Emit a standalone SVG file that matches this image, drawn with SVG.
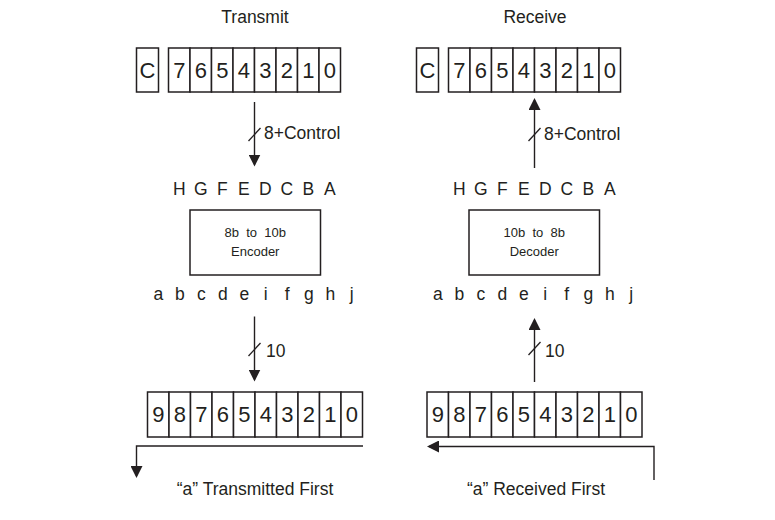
<svg xmlns="http://www.w3.org/2000/svg" width="775" height="520" viewBox="0 0 775 520">
  <defs>
    <style>
      .cell { fill: #fff; stroke: #231f20; stroke-width: 1.5; }
      .box { fill: #fff; stroke: #231f20; stroke-width: 1.5; }
      .digit { font-family: "Liberation Sans", Arial, sans-serif; font-size: 22px; fill: #231f20; text-anchor: middle; }
      .lbl { font-family: "Liberation Sans", Arial, sans-serif; font-size: 17.5px; fill: #231f20; }
      .mid { text-anchor: middle; }
      .small { font-family: "Liberation Sans", Arial, sans-serif; font-size: 13px; fill: #231f20; text-anchor: middle; white-space: pre; }
      .wire { fill: none; stroke: #231f20; stroke-width: 1.4; }
      .tick { fill: none; stroke: #231f20; stroke-width: 1.3; }
    </style>
    <marker id="head" markerUnits="userSpaceOnUse" markerWidth="12" markerHeight="12" refX="10" refY="6" orient="auto">
      <path d="M0,0 L12,6 L0,12 z" fill="#231f20"/>
    </marker>
  </defs>

  <rect width="775" height="520" fill="#fff"/>

  <!-- Section titles -->
  <g id="title-transmit"><text class="lbl mid" x="255" y="22.5">Transmit</text></g>
  <g id="title-receive"><text class="lbl mid" x="535" y="22.5">Receive</text></g>

  <!-- Transmit: parallel byte + control register -->
  <g id="tx-parallel-reg">
    <rect class="cell" x="136.5" y="48" width="22" height="44"/>
    <text class="digit" x="147.5" y="77.5">C</text>
    <rect class="cell" x="168.5" y="48" width="21.5" height="44"/>
    <rect class="cell" x="190" y="48" width="21.5" height="44"/>
    <rect class="cell" x="211.5" y="48" width="21.5" height="44"/>
    <rect class="cell" x="233" y="48" width="21.5" height="44"/>
    <rect class="cell" x="254.5" y="48" width="21.5" height="44"/>
    <rect class="cell" x="276" y="48" width="21.5" height="44"/>
    <rect class="cell" x="297.5" y="48" width="21.5" height="44"/>
    <rect class="cell" x="319" y="48" width="21.5" height="44"/>
    <text class="digit" x="179.25" y="77.5">7</text>
    <text class="digit" x="200.75" y="77.5">6</text>
    <text class="digit" x="222.25" y="77.5">5</text>
    <text class="digit" x="243.75" y="77.5">4</text>
    <text class="digit" x="265.25" y="77.5">3</text>
    <text class="digit" x="286.75" y="77.5">2</text>
    <text class="digit" x="308.25" y="77.5">1</text>
    <text class="digit" x="329.75" y="77.5">0</text>
  </g>

  <!-- Receive: parallel byte + control register -->
  <g id="rx-parallel-reg">
    <rect class="cell" x="416.5" y="48" width="22" height="44"/>
    <text class="digit" x="427.5" y="77.5">C</text>
    <rect class="cell" x="448.5" y="48" width="21.5" height="44"/>
    <rect class="cell" x="470" y="48" width="21.5" height="44"/>
    <rect class="cell" x="491.5" y="48" width="21.5" height="44"/>
    <rect class="cell" x="513" y="48" width="21.5" height="44"/>
    <rect class="cell" x="534.5" y="48" width="21.5" height="44"/>
    <rect class="cell" x="556" y="48" width="21.5" height="44"/>
    <rect class="cell" x="577.5" y="48" width="21.5" height="44"/>
    <rect class="cell" x="599" y="48" width="21.5" height="44"/>
    <text class="digit" x="459.25" y="77.5">7</text>
    <text class="digit" x="480.75" y="77.5">6</text>
    <text class="digit" x="502.25" y="77.5">5</text>
    <text class="digit" x="523.75" y="77.5">4</text>
    <text class="digit" x="545.25" y="77.5">3</text>
    <text class="digit" x="566.75" y="77.5">2</text>
    <text class="digit" x="588.25" y="77.5">1</text>
    <text class="digit" x="609.75" y="77.5">0</text>
  </g>

  <!-- Encoder block with its input/output bit names -->
  <g id="tx-encoder">
    <g class="lbl mid">
      <text x="179.25" y="195">H</text>
      <text x="200.75" y="195">G</text>
      <text x="222.25" y="195">F</text>
      <text x="243.75" y="195">E</text>
      <text x="265.25" y="195">D</text>
      <text x="286.75" y="195">C</text>
      <text x="308.25" y="195">B</text>
      <text x="329.75" y="195">A</text>
    </g>
    <rect class="box" x="190" y="210" width="130.5" height="65"/>
    <text class="small" x="255.25" y="237" xml:space="preserve">8b  to  10b</text>
    <text class="small" x="255.25" y="256">Encoder</text>
    <g class="lbl mid">
      <text x="158.25" y="300">a</text>
      <text x="179.75" y="300">b</text>
      <text x="201.25" y="300">c</text>
      <text x="222.75" y="300">d</text>
      <text x="244.25" y="300">e</text>
      <text x="265.75" y="300">i</text>
      <text x="287.25" y="300">f</text>
      <text x="308.75" y="300">g</text>
      <text x="330.25" y="300">h</text>
      <text x="351.75" y="300">j</text>
    </g>
  </g>

  <!-- Decoder block with its input/output bit names -->
  <g id="rx-decoder">
    <g class="lbl mid">
      <text x="459.25" y="195">H</text>
      <text x="480.75" y="195">G</text>
      <text x="502.25" y="195">F</text>
      <text x="523.75" y="195">E</text>
      <text x="545.25" y="195">D</text>
      <text x="566.75" y="195">C</text>
      <text x="588.25" y="195">B</text>
      <text x="609.75" y="195">A</text>
    </g>
    <rect class="box" x="469" y="210" width="130.5" height="65"/>
    <text class="small" x="534.25" y="237" xml:space="preserve">10b  to  8b</text>
    <text class="small" x="534.25" y="256">Decoder</text>
    <g class="lbl mid">
      <text x="437.75" y="300">a</text>
      <text x="459.25" y="300">b</text>
      <text x="480.75" y="300">c</text>
      <text x="502.25" y="300">d</text>
      <text x="523.75" y="300">e</text>
      <text x="545.25" y="300">i</text>
      <text x="566.75" y="300">f</text>
      <text x="588.25" y="300">g</text>
      <text x="609.75" y="300">h</text>
      <text x="631.25" y="300">j</text>
    </g>
  </g>

  <!-- Transmit: 10-bit serial register -->
  <g id="tx-serial-reg">
    <rect class="cell" x="147.5" y="392" width="21.5" height="45"/>
    <rect class="cell" x="169" y="392" width="21.5" height="45"/>
    <rect class="cell" x="190.5" y="392" width="21.5" height="45"/>
    <rect class="cell" x="212" y="392" width="21.5" height="45"/>
    <rect class="cell" x="233.5" y="392" width="21.5" height="45"/>
    <rect class="cell" x="255" y="392" width="21.5" height="45"/>
    <rect class="cell" x="276.5" y="392" width="21.5" height="45"/>
    <rect class="cell" x="298" y="392" width="21.5" height="45"/>
    <rect class="cell" x="319.5" y="392" width="21.5" height="45"/>
    <rect class="cell" x="341" y="392" width="21.5" height="45"/>
    <text class="digit" x="158.25" y="422">9</text>
    <text class="digit" x="179.75" y="422">8</text>
    <text class="digit" x="201.25" y="422">7</text>
    <text class="digit" x="222.75" y="422">6</text>
    <text class="digit" x="244.25" y="422">5</text>
    <text class="digit" x="265.75" y="422">4</text>
    <text class="digit" x="287.25" y="422">3</text>
    <text class="digit" x="308.75" y="422">2</text>
    <text class="digit" x="330.25" y="422">1</text>
    <text class="digit" x="351.75" y="422">0</text>
  </g>

  <!-- Receive: 10-bit serial register -->
  <g id="rx-serial-reg">
    <rect class="cell" x="427" y="392" width="21.5" height="45"/>
    <rect class="cell" x="448.5" y="392" width="21.5" height="45"/>
    <rect class="cell" x="470" y="392" width="21.5" height="45"/>
    <rect class="cell" x="491.5" y="392" width="21.5" height="45"/>
    <rect class="cell" x="513" y="392" width="21.5" height="45"/>
    <rect class="cell" x="534.5" y="392" width="21.5" height="45"/>
    <rect class="cell" x="556" y="392" width="21.5" height="45"/>
    <rect class="cell" x="577.5" y="392" width="21.5" height="45"/>
    <rect class="cell" x="599" y="392" width="21.5" height="45"/>
    <rect class="cell" x="620.5" y="392" width="21.5" height="45"/>
    <text class="digit" x="437.75" y="422">9</text>
    <text class="digit" x="459.25" y="422">8</text>
    <text class="digit" x="480.75" y="422">7</text>
    <text class="digit" x="502.25" y="422">6</text>
    <text class="digit" x="523.75" y="422">5</text>
    <text class="digit" x="545.25" y="422">4</text>
    <text class="digit" x="566.75" y="422">3</text>
    <text class="digit" x="588.25" y="422">2</text>
    <text class="digit" x="609.75" y="422">1</text>
    <text class="digit" x="631.25" y="422">0</text>
  </g>

  <!-- Bus connectors with width ticks -->
  <g id="connectors">
    <path class="wire" d="M254.5,102 V164.5" marker-end="url(#head)"/>
    <path class="tick" d="M248.5,141 L260.5,128"/>
    <text class="lbl" x="264" y="139">8+Control</text>

    <path class="wire" d="M534.5,168 V100" marker-end="url(#head)"/>
    <path class="tick" d="M528.5,141 L540.5,128"/>
    <text class="lbl" x="544" y="140">8+Control</text>

    <path class="wire" d="M254.5,316.5 V379.5" marker-end="url(#head)"/>
    <path class="tick" d="M248.5,356 L260.5,343"/>
    <text class="lbl" x="266" y="357">10</text>

    <path class="wire" d="M534.5,382 V320" marker-end="url(#head)"/>
    <path class="tick" d="M528.5,355 L540.5,342"/>
    <text class="lbl" x="545" y="357">10</text>

    <path class="wire" d="M363,446 H136.5 V476" marker-end="url(#head)"/>
    <text class="lbl mid" x="255" y="495">“a” Transmitted First</text>

    <path class="wire" d="M654,480 V446.5 H429" marker-end="url(#head)"/>
    <text class="lbl mid" x="536" y="495">“a” Received First</text>
  </g>
</svg>
